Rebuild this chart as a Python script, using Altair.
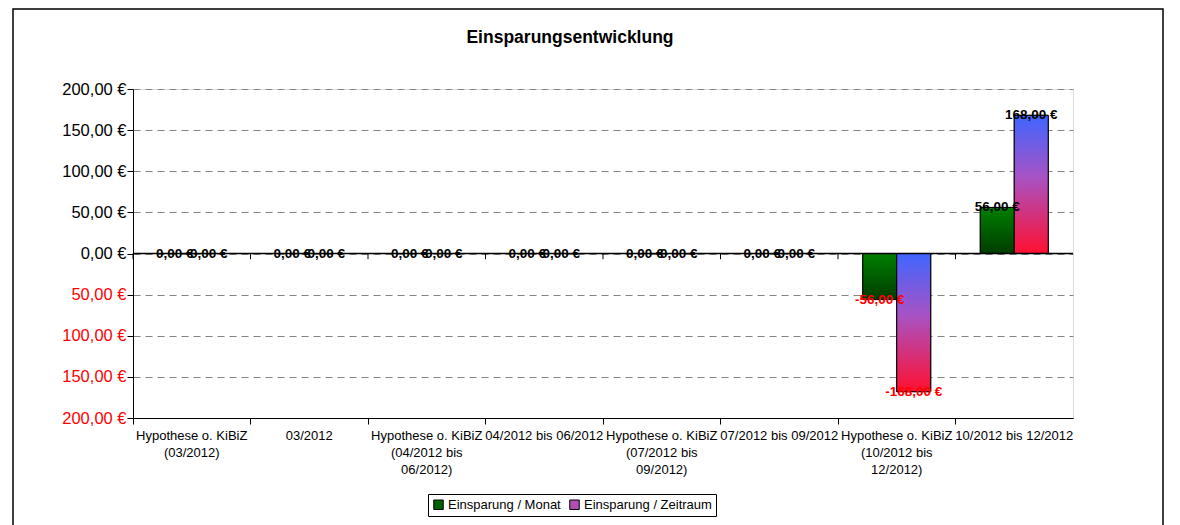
import altair as alt
import pandas as pd

# ---- data ----
title_text = "Einsparungsentwicklung"
categories = [
    "Hypothese o. KiBiZ\n(03/2012)",
    "03/2012",
    "Hypothese o. KiBiZ\n(04/2012 bis\n06/2012)",
    "04/2012 bis 06/2012",
    "Hypothese o. KiBiZ\n(07/2012 bis\n09/2012)",
    "07/2012 bis 09/2012",
    "Hypothese o. KiBiZ\n(10/2012 bis\n12/2012)",
    "10/2012 bis 12/2012",
]
series_names = ["Einsparung / Monat", "Einsparung / Zeitraum"]
monat = [0, 0, 0, 0, 0, 0, -56, 56]
zeitraum = [0, 0, 0, 0, 0, 0, -168, 168]
y_ticks = [-200, -150, -100, -50, 0, 50, 100, 150, 200]

rows = []
for c, m, z in zip(categories, monat, zeitraum):
    rows.append({"cat": c, "series": series_names[0], "value": m})
    rows.append({"cat": c, "series": series_names[1], "value": z})
df = pd.DataFrame(rows)

FONT = "Liberation Sans"

x_enc = alt.X(
    "cat:N",
    sort=categories,
    scale=alt.Scale(paddingInner=0, paddingOuter=0),
    axis=alt.Axis(
        title=None,
        labelAngle=0,
        labelExpr="split(datum.label, '\\n')",
        labelFontSize=13,
        labelFont=FONT,
        labelColor="black",
        labelLineHeight=17,
        labelLimit=200,
        labelPadding=5,
        bandPosition=0,
        tickSize=6,
        tickColor="black",
        domainColor="black",
        domainWidth=1,
        grid=False,
    ),
)
xoff_enc = alt.XOffset(
    "series:N",
    sort=series_names,
    scale=alt.Scale(domain=series_names, paddingInner=0, paddingOuter=0.73),
)
y_enc = alt.Y(
    "value:Q",
    scale=alt.Scale(domain=[-200, 200], nice=False),
    axis=alt.Axis(
        title=None,
        values=y_ticks,
        labelExpr="replace(format(abs(datum.value), '.2f'), '.', ',') + ' €'",
        labelColor={"condition": {"test": "datum.value < 0", "value": "#ff0000"}, "value": "#000000"},
        labelFontSize=16.5,
        labelFont=FONT,
        labelPadding=1,
        tickSize=6,
        tickColor="black",
        domainColor="black",
        grid=True,
        gridDash=[7, 5],
        gridColor="#858585",
        gridWidth=1,
    ),
)

base = alt.Chart(df)

bars_legend = base.mark_bar(stroke="black", strokeWidth=1).encode(
    x=x_enc,
    xOffset=xoff_enc,
    y=y_enc,
    color=alt.Color(
        "series:N",
        scale=alt.Scale(domain=series_names, range=["#006000", "#b04fb0"]),
        legend=alt.Legend(
            title=None,
            orient="none",
            legendX=295,
            legendY=405,
            direction="horizontal",
            strokeColor="black",
            padding=4,
            symbolType="square",
            symbolSize=90,
            symbolStrokeColor="black",
            symbolStrokeWidth=1,
            labelFontSize=13,
            labelFont=FONT,
            labelColor="black",
            labelOffset=3,
            columnPadding=6,
        ),
    ),
)

green_grad = alt.Gradient(
    gradient="linear",
    stops=[alt.GradientStop(color="#008000", offset=0), alt.GradientStop(color="#003c00", offset=1)],
    x1=0, x2=0, y1=0, y2=1,
)
br_grad = alt.Gradient(
    gradient="linear",
    stops=[
        alt.GradientStop(color="#3f66ff", offset=0),
        alt.GradientStop(color="#a852c4", offset=0.45),
        alt.GradientStop(color="#ff1030", offset=1),
    ],
    x1=0, x2=0, y1=0, y2=1,
)

bars_green = base.transform_filter(alt.datum.series == series_names[0]).mark_bar(
    fill=green_grad, stroke="black", strokeWidth=1
).encode(x=x_enc, xOffset=xoff_enc, y=y_enc)

bars_br = base.transform_filter(alt.datum.series == series_names[1]).mark_bar(
    fill=br_grad, stroke="black", strokeWidth=1
).encode(x=x_enc, xOffset=xoff_enc, y=y_enc)

zero_rule = alt.Chart(alt.Data(values=[{"z": 0}])).mark_rule(color="black", strokeWidth=1.5).encode(
    y=alt.Y("z:Q")
)

zero_ticks = alt.Chart(pd.DataFrame({"cat": categories})).mark_rule(color="black", strokeWidth=1).encode(
    x=alt.X("cat:N", sort=categories, bandPosition=0),
    y=alt.datum(0),
    y2=alt.datum(-7),
)

labels = base.transform_calculate(
    lab="(datum.value < 0 ? '-' : '') + replace(format(abs(datum.value), '.2f'), '.', ',') + ' €'"
).mark_text(fontWeight="bold", fontSize=13.5, font=FONT, baseline="middle", align="center").encode(
    x=x_enc,
    xOffset=xoff_enc,
    y=alt.Y("value:Q"),
    text="lab:N",
    color=alt.condition("datum.value < 0", alt.value("#ff0000"), alt.value("#000000")),
)

title = alt.Chart(alt.Data(values=[{"t": title_text}])).mark_text(
    fontWeight="bold", fontSize=17.5, font=FONT, baseline="middle", align="center", color="black"
).encode(x=alt.value(437), y=alt.value(-51), text="t:N")

frame = alt.Chart(alt.Data(values=[{}])).mark_rect(fillOpacity=0, stroke="black", strokeWidth=1.5).encode(
    x=alt.value(-120), x2=alt.value(1030), y=alt.value(-80), y2=alt.value(700)
)

chart = alt.layer(
    frame, title, bars_legend, bars_green, bars_br, zero_rule, zero_ticks, labels
).properties(
    width=940,
    height=329,
    autosize=alt.AutoSizeParams(type="none"),
    padding={"left": 125, "top": 81, "right": 99, "bottom": 110},
).configure_view(
    fill="#c0c0c0", stroke="#808080", strokeWidth=2
).configure(background="white")

chart.save("out.html", embed_options={"renderer": "svg", "actions": False})
